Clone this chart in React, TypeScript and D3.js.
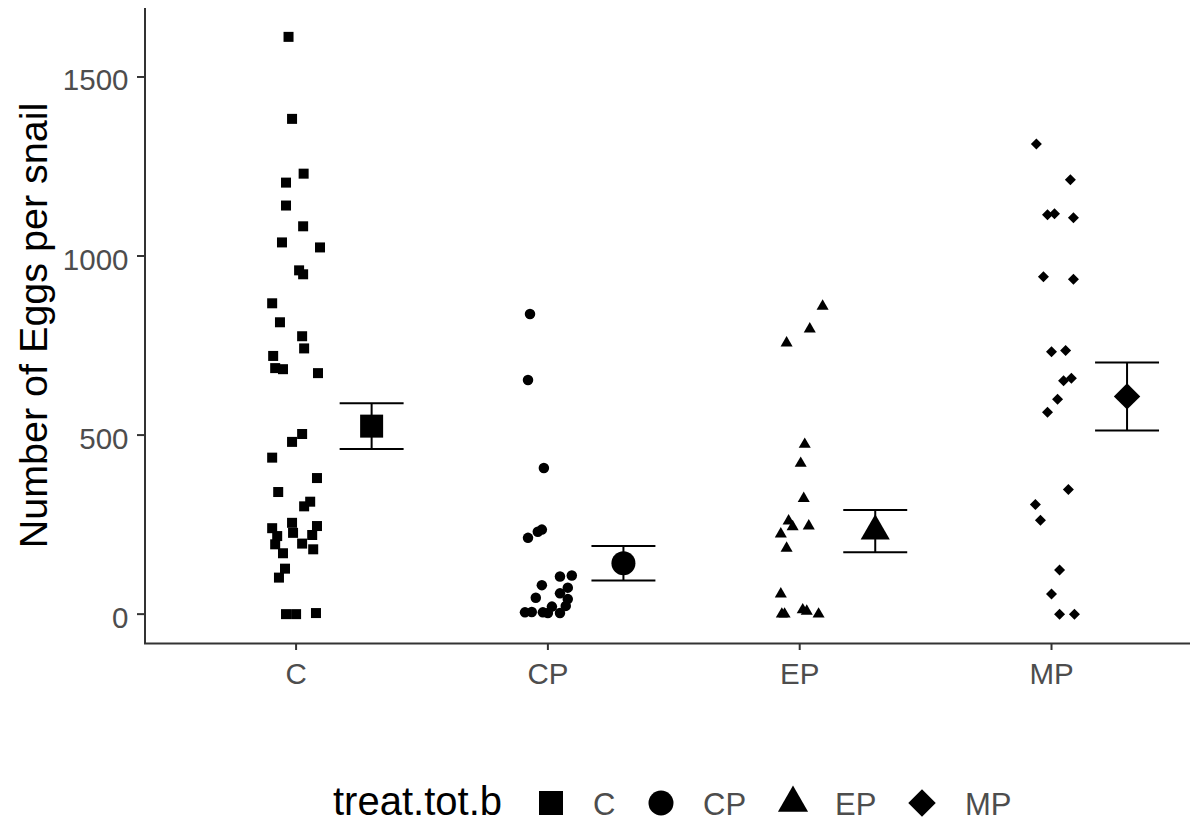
import React from "react";
import * as d3 from "d3";

const categories = ["C", "CP", "EP", "MP"];
const yTicks = [0, 500, 1000, 1500];

// jitter offsets (category units) and values for each group
const cJitter = [-0.03, -0.016, 0.03, -0.04, -0.04, 0.028, -0.056, 0.095, 0.012, 0.028, -0.095, -0.064, 0.024, 0.032, -0.091, -0.083, -0.052, 0.087, 0.024, -0.016, -0.095, 0.083, -0.071, 0.056, 0.032, -0.095, -0.016, 0.083, -0.012, -0.075, 0.064, -0.083, 0.024, -0.052, 0.068, -0.044, -0.068, -0.04, 0, 0.079];
const cValues = [1612, 1383, 1230, 1205, 1141, 1083, 1038, 1024, 960, 949, 868, 815, 776, 742, 721, 687, 684, 673, 503, 481, 437, 380, 341, 314, 301, 240, 255, 246, 227, 218, 221, 195, 197, 170, 181, 127, 102, 0, 0, 3];

const cpJitter = [-0.071, -0.079, -0.016, -0.079, -0.04, -0.024, 0.048, 0.095, -0.024, 0.079, -0.048, 0.048, 0.079, 0.071, 0.016, -0.091, -0.064, -0.02, 0, 0.048];
const cpValues = [838, 654, 408, 213, 230, 236, 105, 108, 81, 74, 46, 58, 42, 23, 21, 5, 6, 5, 3, 3];

const epJitter = [0.091, 0.04, -0.052, 0.02, 0.004, 0.016, -0.044, -0.028, 0.036, -0.075, -0.052, -0.075, -0.071, -0.06, 0.012, 0.028, 0.075];
const epValues = [860, 796, 757, 474, 421, 323, 260, 244, 246, 224, 184, 56, 0, 0, 12, 8, 0];

const mpJitter = [-0.06, 0.075, -0.016, 0.012, 0.087, -0.032, 0.087, 0, 0.056, 0.048, 0.079, 0.024, -0.016, 0.067, -0.064, -0.044, 0.032, 0, 0.032, 0.091];
const mpValues = [1313, 1213, 1115, 1118, 1107, 942, 935, 733, 736, 652, 659, 600, 564, 348, 306, 262, 123, 56, 0, 0];

const groupMeans = [525, 142, 232, 608];
const groupSE = [64, 48, 59, 95];

const legendTitle = "treat.tot.b";
const yTitle = "Number of Eggs per snail";

const FONT = "'Liberation Sans', Arial, sans-serif";
const GREY = "#4d4d4d";

function Shape({ kind, cx, cy, s }: { kind: string; cx: number; cy: number; s: number }) {
  if (kind === "C") {
    return <rect x={cx - s / 2} y={cy - s / 2} width={s} height={s} fill="#000" />;
  }
  if (kind === "CP") {
    return <circle cx={cx} cy={cy} r={s / 2} fill="#000" />;
  }
  if (kind === "EP") {
    const r = s * 0.58;
    const xc = r * Math.sqrt(3) / 2;
    const pts = [[cx, cy - r], [cx + xc, cy + r / 2], [cx - xc, cy + r / 2]];
    return <polygon points={pts.map((p) => p.join(",")).join(" ")} fill="#000" />;
  }
  const h = s * 0.55;
  const pts = [[cx, cy - h], [cx + h, cy], [cx, cy + h], [cx - h, cy]];
  return <polygon points={pts.map((p) => p.join(",")).join(" ")} fill="#000" />;
}

export default function App() {
  const W = 1202, H = 829;
  const x = d3.scaleLinear().domain([0.4, 4.55]).range([145, 1190]);
  const y = d3.scaleLinear().domain([-80.6, 1692.6]).range([643, 8]);

  const groups = [
    { key: "C", jit: cJitter, vals: cValues },
    { key: "CP", jit: cpJitter, vals: cpValues },
    { key: "EP", jit: epJitter, vals: epValues },
    { key: "MP", jit: mpJitter, vals: mpValues },
  ];
  const smallSize: Record<string, number> = { C: 10, CP: 10.5, EP: 12, MP: 10 };
  const bigSize: Record<string, number> = { C: 23, CP: 24, EP: 29, MP: 24 };

  const dodge = 0.3;
  const capHalf = 0.127;

  const legendItems = [
    { key: "C", kx: 551, tx: 593 },
    { key: "CP", kx: 661, tx: 703 },
    { key: "EP", kx: 793, tx: 835 },
    { key: "MP", kx: 922, tx: 965 },
  ];

  return (
    <svg width={W} height={H} style={{ position: "absolute", left: 0, top: 0, background: "#fff" }} fontFamily={FONT}>
      <rect width={W} height={H} fill="#fff" />
      {/* points */}
      {groups.map((g, gi) =>
        g.vals.map((v, i) => (
          <Shape key={g.key + i} kind={g.key} cx={x(gi + 1 + g.jit[i])} cy={y(v)} s={smallSize[g.key]} />
        ))
      )}
      {/* error bars and means */}
      {groups.map((g, gi) => {
        const cx = x(gi + 1 + dodge);
        const lo = y(groupMeans[gi] - groupSE[gi]);
        const hi = y(groupMeans[gi] + groupSE[gi]);
        const xl = x(gi + 1 + dodge - capHalf);
        const xr = x(gi + 1 + dodge + capHalf);
        return (
          <g key={"m" + g.key}>
            <line x1={cx} x2={cx} y1={lo} y2={hi} stroke="#000" strokeWidth={2} />
            <line x1={xl} x2={xr} y1={lo} y2={lo} stroke="#000" strokeWidth={2} />
            <line x1={xl} x2={xr} y1={hi} y2={hi} stroke="#000" strokeWidth={2} />
            <Shape kind={g.key} cx={cx} cy={y(groupMeans[gi])} s={bigSize[g.key]} />
          </g>
        );
      })}
      {/* axes */}
      <line x1={145} x2={145} y1={8} y2={644} stroke="#333" strokeWidth={2} />
      <line x1={144} x2={1190} y1={643.5} y2={643.5} stroke="#333" strokeWidth={2} />
      {yTicks.map((t) => (
        <g key={"yt" + t}>
          <line x1={137} x2={145} y1={y(t)} y2={y(t)} stroke="#333" strokeWidth={2} />
          <text x={128.5} y={y(t) + 13.5} textAnchor="end" fontSize={29.5} fill={GREY}>{t}</text>
        </g>
      ))}
      {categories.map((c, i) => (
        <g key={"xt" + c}>
          <line x1={x(i + 1)} x2={x(i + 1)} y1={643} y2={650} stroke="#333" strokeWidth={2} />
          <text x={x(i + 1)} y={684} textAnchor="middle" fontSize={29.5} fill={GREY}>{c}</text>
        </g>
      ))}
      <text transform={`translate(46.5, ${y((-80.6 + 1692.6) / 2)}) rotate(-90)`} textAnchor="middle" fontSize={39.5} fill="#000">{yTitle}</text>
      {/* legend */}
      <text x={333} y={815} fontSize={40} fill="#000">{legendTitle}</text>
      {legendItems.map((it) => (
        <g key={"lg" + it.key}>
          <Shape kind={it.key} cx={it.kx} cy={803} s={bigSize[it.key] + 1} />
          <text x={it.tx} y={815} fontSize={31} fill={GREY}>{it.key}</text>
        </g>
      ))}
    </svg>
  );
}
